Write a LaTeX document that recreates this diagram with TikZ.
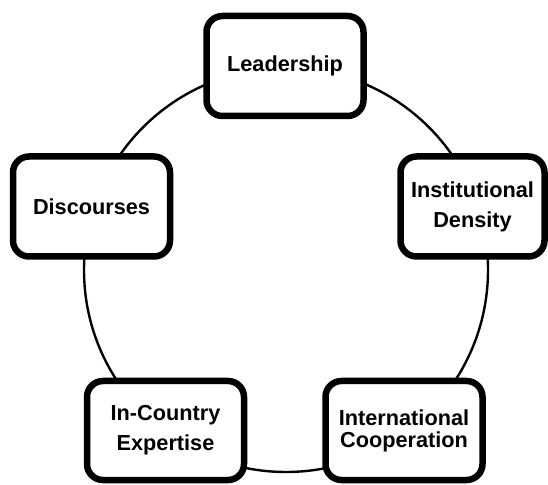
\documentclass[tikz,border=0pt]{standalone}
\usepackage{fontspec}
\setmainfont{Liberation Sans}

\begin{document}
\begin{tikzpicture}[x=1pt,y=1pt]
      \tikzset{factor/.style = {shape=rectangle,draw,fill=white,line width=6.5pt,rounded corners=16pt,minimum width=157pt,minimum height=100pt,align=center,font=\fontsize{21.7}{30}\bfseries\selectfont}}
      \tikzset{ring/.style = {line width=2.4pt}}
      \useasboundingbox (0,0) rectangle (548,484);

      \coordinate (o) at (286,214);
      \draw[ring] (o) circle[radius=202pt];

      \node[factor] (lead) at (285,418) {Leadership};
      \node[factor,minimum width=144pt] (inst) at (472.5,277.5) {Institutional\\Density};
      \node[factor] (disc) at (91.5,277.5) {Discourses};

      \node[factor,minimum height=99pt] (expert) at (165.5,53.5) {In-Country\\Expertise};
      \node[factor,minimum height=99pt,font=\fontsize{21.7}{22}\bfseries\selectfont] (coop) at (404,53.5) {International\\Cooperation};
    \end{tikzpicture}
\end{document}
